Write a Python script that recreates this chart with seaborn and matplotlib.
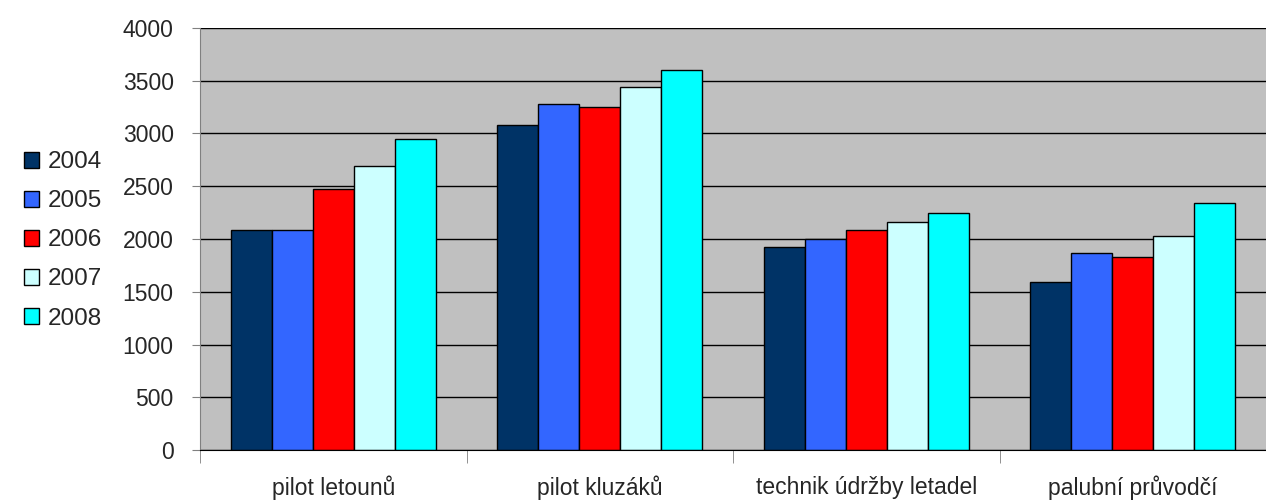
import matplotlib
matplotlib.use('Agg')
import matplotlib.pyplot as plt
import seaborn as sns
import pandas as pd
import numpy as np

categories = ['pilot letounů', 'pilot kluzáků', 'technik údržby letadel', 'palubní průvodčí']
years = ['2004', '2005', '2006', '2007', '2008']
values_2004 = [2085, 3085, 1925, 1595]
values_2005 = [2085, 3280, 2000, 1865]
values_2006 = [2475, 3250, 2085, 1830]
values_2007 = [2695, 3445, 2160, 2030]
values_2008 = [2950, 3605, 2250, 2340]
colors = ['#003366', '#3366FF', '#FF0000', '#CCFFFF', '#00FFFF']

series = [values_2004, values_2005, values_2006, values_2007, values_2008]
rows = []
for year, vals in zip(years, series):
    for cat, v in zip(categories, vals):
        rows.append({'category': cat, 'year': year, 'value': v})
df = pd.DataFrame(rows)

sns.set_style('white')
plt.rcParams['font.family'] = ['Liberation Sans', 'DejaVu Sans']

fig = plt.figure(figsize=(12.66, 5.01), dpi=100)
# plot area: x 200..1266 px, y 28..450 px
ax = fig.add_axes([200 / 1266, 51 / 501, 1066 / 1266, 422 / 501])
ax.set_facecolor('#C0C0C0')

sns.barplot(data=df, x='category', y='value', hue='year', order=categories,
            hue_order=years, palette=colors, width=0.77, edgecolor='black',
            linewidth=1.0, ax=ax, legend=True, saturation=1)

ax.set_ylim(0, 4000)
ax.set_xlim(-0.5, -0.5 + 1066 / 269)
ax.set_yticks(np.arange(0, 4001, 500))
ax.yaxis.grid(True, color='black', linewidth=1)
ax.set_axisbelow(True)
ax.set_xlabel('')
ax.set_ylabel('')

for s in ['top', 'right']:
    ax.spines[s].set_visible(False)
ax.spines['left'].set_color('#808080')
ax.spines['bottom'].set_color('black')

ax.tick_params(axis='y', length=6, color='#808080', labelsize=16.5, pad=13, left=True)
ax.set_xticks(range(len(categories)))
ax.set_xticks(np.arange(-0.5, 4, 1), minor=True)
ax.tick_params(axis='x', which='major', length=0, labelsize=16.5, pad=18.5)
ax.tick_params(axis='x', which='minor', length=9, color='#808080', bottom=True)

handles, labels = ax.get_legend_handles_labels()
ax.legend_.remove()
fig.legend(handles, labels, loc='center left', bbox_to_anchor=(0.002, 0.52),
           frameon=False, fontsize=17.5, handlelength=0.62, handleheight=0.62,
           handletextpad=0.35, labelspacing=0.7)

fig.savefig('out.png', dpi=100)
